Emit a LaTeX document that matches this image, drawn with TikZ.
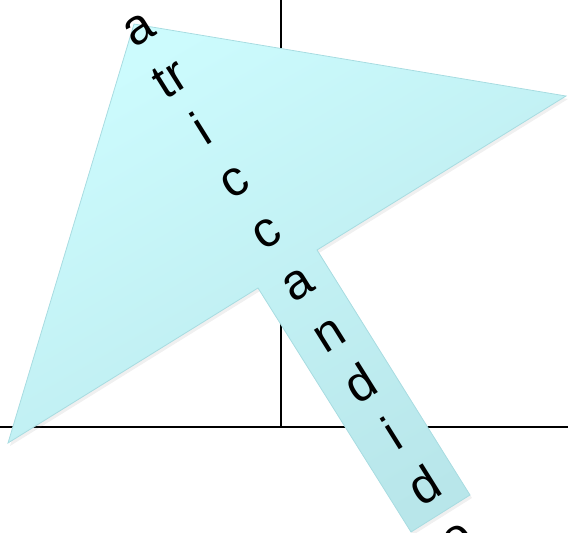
\documentclass[tikz,border=0pt]{standalone}
\usepackage{fontspec}
\setmainfont{Liberation Sans}
\usetikzlibrary{calc,shadows}
\definecolor{kiteTop}{RGB}{204,251,253}
\definecolor{kiteBot}{RGB}{184,230,234}
\definecolor{kiteEdge}{RGB}{168,220,225}

\begin{document}
\begin{tikzpicture}[x=1pt,y=1pt,
        letter/.style={rotate=32,anchor=mid,inner sep=0pt,font=\fontsize{50}{50}\selectfont}]
        \useasboundingbox (0,0) rectangle (568,533);

        % 1. Axes (drawn first, the kite covers them)
        \coordinate (ytop) at (281,533);
        \coordinate (orig) at (281,106);
        \coordinate (xleft) at (0,106);
        \coordinate (xright) at (568,106);
        \draw[line width=2pt] (ytop) -- (orig);
        \draw[line width=2pt] (xleft) -- (xright);

        % 2. Kite with its stem
        \coordinate (p1) at (134,509);
        \coordinate (p2) at (566,437);
        \coordinate (p3) at (317,283);
        \coordinate (p4) at (470,38);
        \coordinate (p5) at (411,1);
        \coordinate (p6) at (258,245);
        \coordinate (p7) at (8,90);
        \path[draw=kiteEdge,line width=0.8pt,top color=kiteTop,bottom color=kiteBot,shading angle=30,
              drop shadow={opacity=0.12,shadow xshift=2pt,shadow yshift=-3pt}]
            (p1) -- (p2) -- (p3) -- (p4) -- (p5) -- (p6) -- (p7) -- cycle;

        % 3. Letters stacked along the stem
        \coordinate (start) at (145,494);
        \foreach \t [count=\i from 0] in {a,tr,i,c,c,a,n,d,i,d,e}
            \node (l\i) [letter] at ($(start)+(-58:\i*60.1)$) {\t};

    \end{tikzpicture}
\end{document}
